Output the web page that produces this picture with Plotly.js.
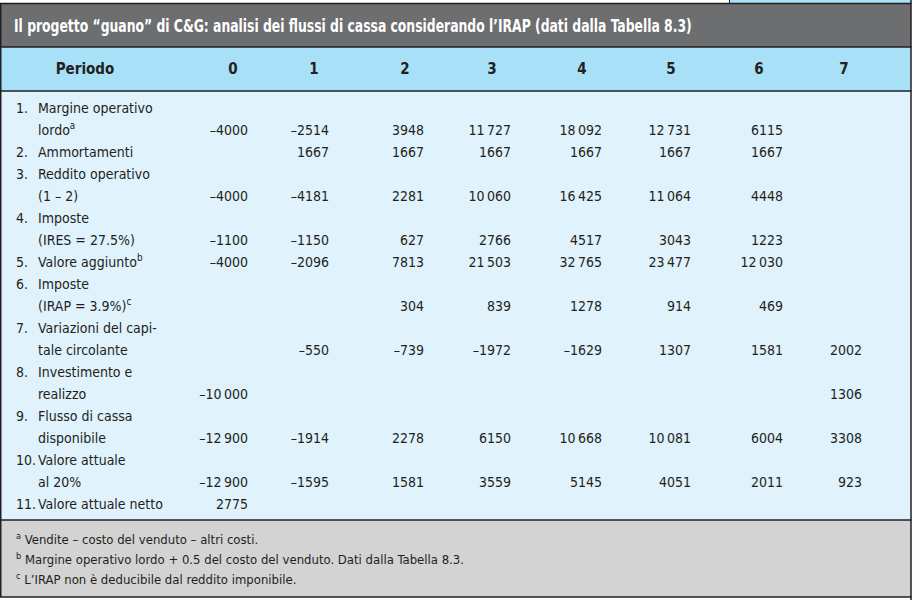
<!DOCTYPE html>
<html><head><meta charset="utf-8">
<script src="https://cdn.plot.ly/plotly-3.0.1.min.js"></script>
<style>
html,body{margin:0;padding:0;background:#fff}
#chart{width:917px;height:603px}
#chart text.gtitle{transform-box:fill-box;transform-origin:0 50%;transform:scaleX(0.81)}
</style>
</head><body><div id="chart"></div>
<script>
// ---------- DATA ----------
const tableTitle = 'Il progetto “guano” di C&amp;G: analisi dei flussi di cassa considerando l’IRAP (dati dalla Tabella 8.3)';
const headerLabel = 'Periodo';
const periods = ['0', '1', '2', '3', '4', '5', '6', '7'];
const rowNumbers = ['1.', '2.', '3.', '4.', '5.', '6.', '7.', '8.', '9.', '10.', '11.'];
const rowLabels = [
  ['Margine operativo', 'lordo<sup>a</sup>'],
  ['Ammortamenti'],
  ['Reddito operativo', '(1 – 2)'],
  ['Imposte', '(IRES = 27.5%)'],
  ['Valore aggiunto<sup>b</sup>'],
  ['Imposte', '(IRAP = 3.9%)<sup>c</sup>'],
  ['Variazioni del capi-', 'tale circolante'],
  ['Investimento e', 'realizzo'],
  ['Flusso di cassa', 'disponibile'],
  ['Valore attuale', 'al 20%'],
  ['Valore attuale netto']
];
const margineOperativoLordo = [-4000, -2514, 3948, 11727, 18092, 12731, 6115, null];
const ammortamenti          = [null, 1667, 1667, 1667, 1667, 1667, 1667, null];
const redditoOperativo      = [-4000, -4181, 2281, 10060, 16425, 11064, 4448, null];
const imposteIRES           = [-1100, -1150, 627, 2766, 4517, 3043, 1223, null];
const valoreAggiunto        = [-4000, -2096, 7813, 21503, 32765, 23477, 12030, null];
const imposteIRAP           = [null, null, 304, 839, 1278, 914, 469, null];
const variazioniCapitale    = [null, -550, -739, -1972, -1629, 1307, 1581, 2002];
const investimentoRealizzo  = [-10000, null, null, null, null, null, null, 1306];
const flussoCassa           = [-12900, -1914, 2278, 6150, 10668, 10081, 6004, 3308];
const valoreAttuale20       = [-12900, -1595, 1581, 3559, 5145, 4051, 2011, 923];
const valoreAttualeNetto    = [2775, null, null, null, null, null, null, null];
const footnotes = [
  '<sup>a</sup> Vendite – costo del venduto – altri costi.',
  '<sup>b</sup> Margine operativo lordo + 0.5 del costo del venduto. Dati dalla Tabella 8.3.',
  '<sup>c</sup> L’IRAP non è deducibile dal reddito imponibile.'
];

// ---------- LAYOUT CONSTANTS ----------
const rows = [margineOperativoLordo, ammortamenti, redditoOperativo, imposteIRES, valoreAggiunto,
  imposteIRAP, variazioniCapitale, investimentoRealizzo, flussoCassa, valoreAttuale20, valoreAttualeNetto];
const W = 917, H = 603;
const colRight = [248, 329, 424, 511, 602, 691, 783, 862];
const colHead = [233, 314, 405, 492, 582, 671, 759, 844];
const numX = 16, labelX = 38;
const lineTop = 109, lineH = 22.0;
const FONT = '"Liberation Sans Narrow", "Arial Narrow", "DejaVu Sans Condensed", sans-serif';
const INK = '#231f20';

function fmt(v) {
  const a = Math.abs(v);
  let s = String(a);
  if (a >= 10000) s = s.slice(0, s.length - 3) + '\u2009' + s.slice(-3);
  return (v < 0 ? '–' : '') + s;
}

const numTx = [], numTy = [], numT = [];
const labTx = [], labTy = [], labT = [];
const valX = [], valY = [], valT = [];
let line = 0;
rowLabels.forEach((lbl, i) => {
  numTx.push(numX); numTy.push(line); numT.push(rowNumbers[i]);
  lbl.forEach((t, k) => { labTx.push(labelX); labTy.push(line + k); labT.push(t); });
  const last = line + lbl.length - 1;
  rows[i].forEach((v, j) => {
    if (v !== null) { valX.push(colRight[j]); valY.push(last); valT.push(fmt(v)); }
  });
  line += lbl.length;
});
const toY = py => (py - lineTop) / lineH;

const bodyFont = {family: FONT, size: 14, color: INK};
const traces = [
  {type: 'scatter', mode: 'text', x: numTx, y: numTy, text: numT, textposition: 'middle right', textfont: bodyFont, hoverinfo: 'skip'},
  {type: 'scatter', mode: 'text', x: labTx, y: labTy, text: labT, textposition: 'middle right', textfont: bodyFont, hoverinfo: 'skip'},
  {type: 'scatter', mode: 'text', x: valX, y: valY, text: valT, textposition: 'middle left', textfont: bodyFont, hoverinfo: 'skip'},
  {type: 'scatter', mode: 'text', x: [85].concat(colHead), y: Array(9).fill(toY(70.5)), text: ['<b>' + headerLabel + '</b>'].concat(periods.map(p => '<b>' + p + '</b>')),
   textposition: 'middle center', textfont: {family: FONT, size: 15, color: INK}, hoverinfo: 'skip'}
];

const rect = (x0, y0, x1, y1, fill, lw) => ({type: 'rect', xref: 'paper', yref: 'paper', x0: x0 / W, x1: x1 / W, y0: 1 - y0 / H, y1: 1 - y1 / H,
  fillcolor: fill, line: {color: INK, width: lw}, layer: 'below'});
const hline = (y, x0, x1, w) => ({type: 'line', xref: 'paper', yref: 'paper', x0: x0 / W, x1: x1 / W, y0: 1 - y / H, y1: 1 - y / H, line: {color: INK, width: w}, layer: 'below'});
const vline = (x, y0, y1, w) => ({type: 'line', xref: 'paper', yref: 'paper', x0: x / W, x1: x / W, y0: 1 - y0 / H, y1: 1 - y1 / H, line: {color: INK, width: w}, layer: 'below'});

const shapes = [
  rect(729.5, -2, 911, 3.5, '#a8e0f8', 0),
  rect(0, 3.5, 911, 47, '#6d6e70', 0),
  rect(0, 47, 911, 91, '#a8e0f8', 0),
  rect(0, 91, 911, 520, '#e0f2fc', 0),
  rect(0, 520, 911, 597, '#d3d3d3', 0),
  vline(729.5, 0, 3.5, 1),
  hline(3.5, 0, 911.5, 1.5),
  hline(47, 0, 911.5, 1.5),
  hline(91, 0, 911.5, 1.5),
  hline(520, 0, 911.5, 1.5),
  hline(597, 0, 911.5, 1.5),
  vline(0.75, 3.5, 597, 1.5),
  vline(911, 0, 600, 1.5)
];

const annotations = footnotes.map((t, i) => ({
  xref: 'paper', yref: 'paper', x: 14 / W, y: 1 - (539 + 20 * i) / H, xanchor: 'left', yanchor: 'middle',
  text: t, showarrow: false, font: {family: FONT, size: 13, color: INK}
}));

const layout = {
  width: W, height: H,
  margin: {l: 0, r: 0, t: 0, b: 0, pad: 0},
  paper_bgcolor: '#ffffff', plot_bgcolor: 'rgba(0,0,0,0)',
  showlegend: false,
  title: {text: '<b>' + tableTitle + '</b>', xref: 'container', yref: 'container', x: 14 / W, xanchor: 'left',
    y: 1 - 26 / H, yanchor: 'middle', font: {family: FONT, size: 17, color: '#ffffff'}, pad: {t: 0, b: 0, l: 0, r: 0}},
  xaxis: {range: [0, W], visible: false, fixedrange: true},
  yaxis: {range: [toY(H), toY(0)], visible: false, fixedrange: true},
  shapes: shapes,
  annotations: annotations
};

Plotly.newPlot('chart', traces, layout, {staticPlot: true, displayModeBar: false});
</script>
</body></html>
